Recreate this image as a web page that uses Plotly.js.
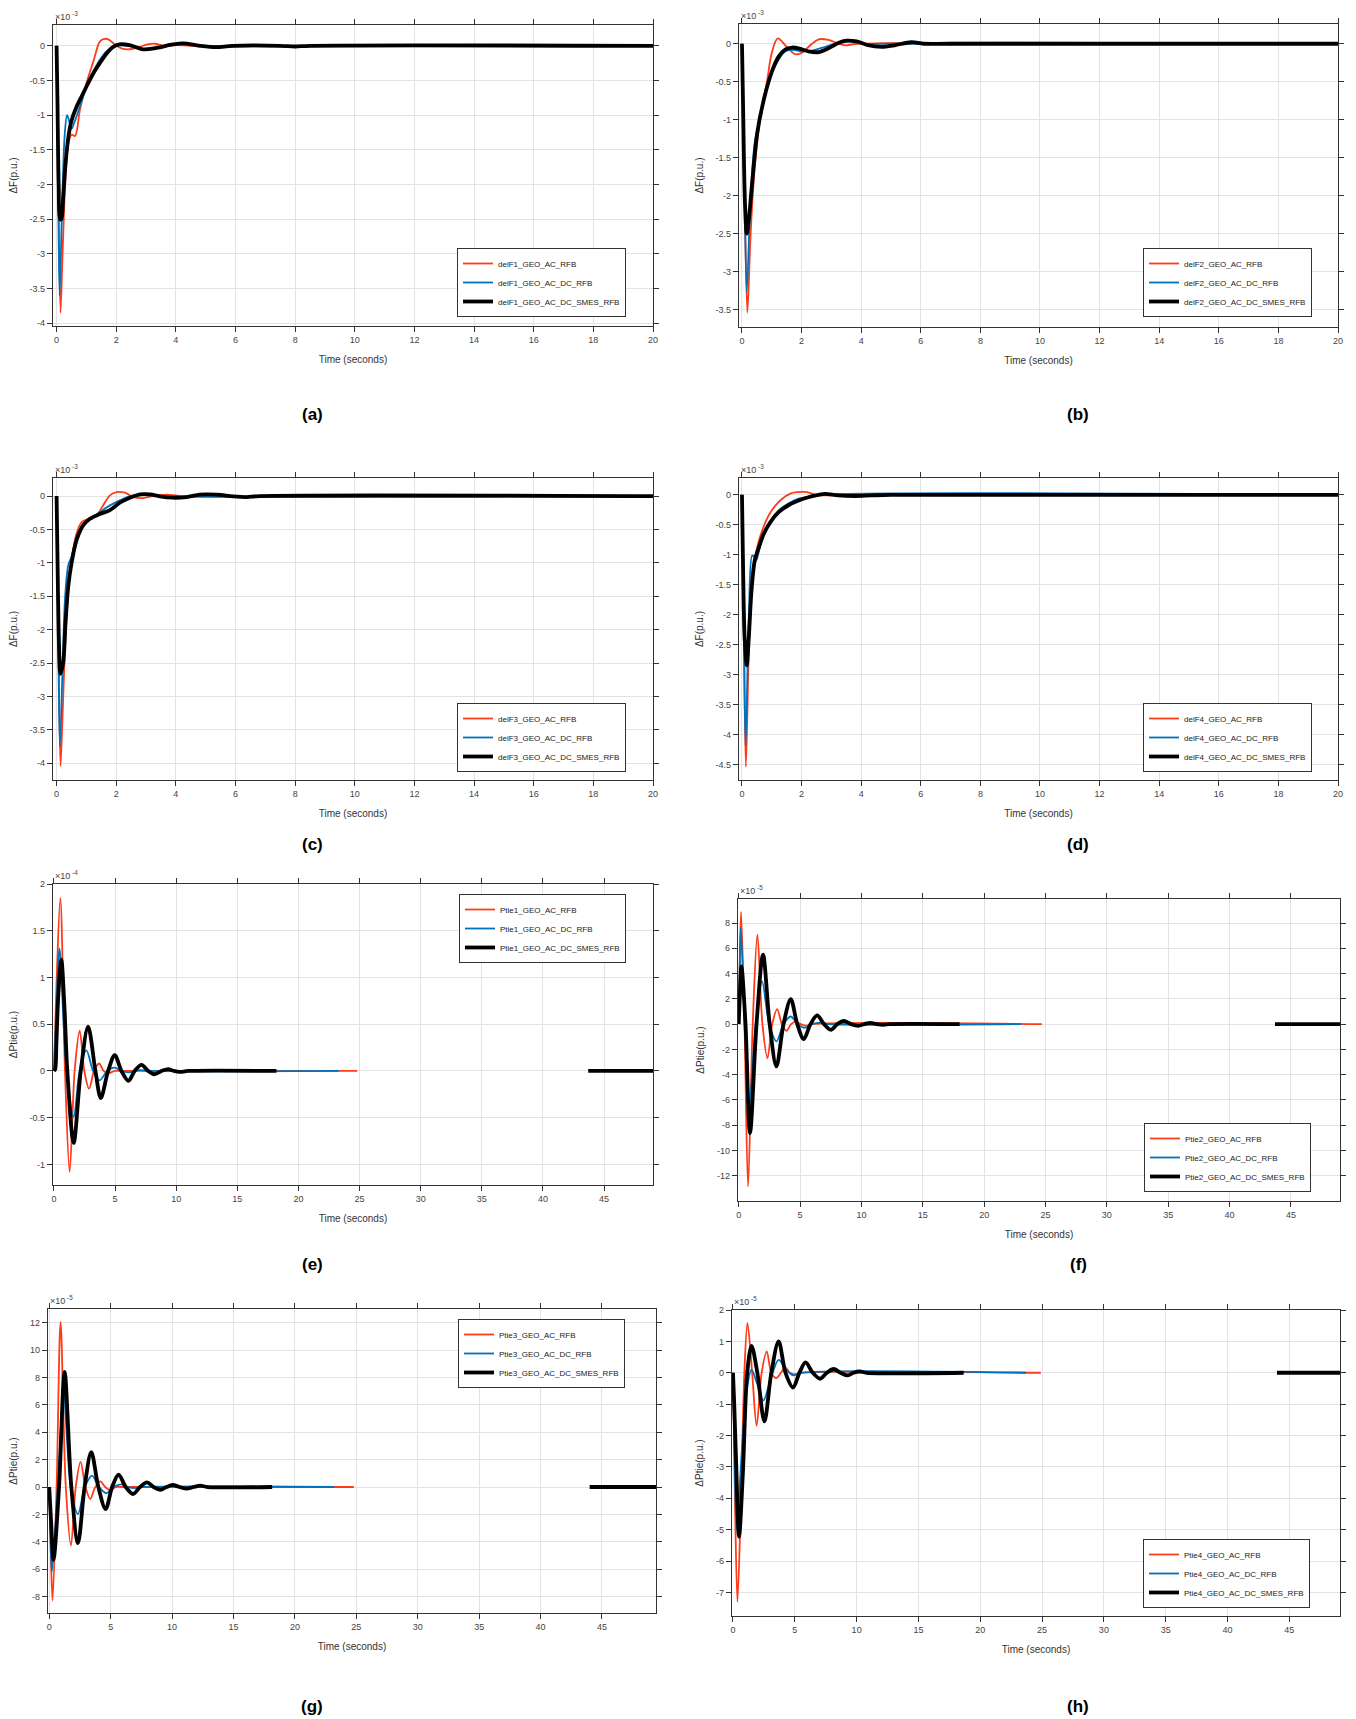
<!DOCTYPE html>
<html><head><meta charset="utf-8">
<script src="https://cdn.plot.ly/plotly-3.0.1.min.js"></script>
<style>html,body{margin:0;padding:0;background:#fff;} #chart{width:1356px;height:1719px;}</style>
</head><body><div id="chart"></div>
<script>
// ---------------- DATA ----------------
// Panel (a): delF1, units x10^-3
const redA_t   = [0, 0.05, 0.13, 0.2, 0.3, 0.4, 0.5, 0.62, 0.78, 1.0, 1.23, 1.45, 1.6, 1.75, 1.95, 2.2, 2.45, 2.75, 3.05, 3.3, 3.6, 4.0, 4.5, 5.0, 20];
const redA_v   = [0, -1.6, -3.85, -3.0, -1.9, -1.4, -1.28, -1.3, -0.93, -0.54, -0.23, 0.06, 0.1, 0.09, 0.02, -0.04, -0.05, -0.02, 0.02, 0.03, 0.0, 0.01, 0.0, 0, 0];
const blueA_t  = [0, 0.05, 0.1, 0.18, 0.27, 0.35, 0.42, 0.5, 0.6, 0.8, 1.0, 1.2, 1.45, 1.7, 1.95, 2.2, 2.5, 2.8, 3.1, 3.4, 3.8, 4.3, 4.8, 5.5, 20];
const blueA_v  = [0, -1.8, -3.6, -2.4, -1.3, -1.0, -1.08, -1.2, -1.1, -0.85, -0.6, -0.4, -0.2, -0.07, -0.01, 0.01, -0.01, -0.04, -0.04, -0.02, 0.02, 0.03, 0.0, -0.01, 0];
const blackA_t = [0, 0.03, 0.07, 0.12, 0.16, 0.22, 0.3, 0.4, 0.5, 0.67, 0.85, 1.0, 1.2, 1.45, 1.7, 1.9, 2.1, 2.45, 2.9, 3.35, 3.9, 4.25, 4.8, 5.35, 5.9, 7.5, 8.0, 8.5, 20];
const blackA_v = [0, -0.8, -2.0, -2.5, -2.5, -2.2, -1.7, -1.3, -1.08, -0.88, -0.72, -0.59, -0.42, -0.25, -0.1, -0.015, 0.02, 0.01, -0.05, -0.03, 0.02, 0.035, 0.0, -0.02, 0.0, 0, -0.01, 0, 0];

// Panel (b): delF2, units x10^-3
const redB_t   = [0, 0.08, 0.18, 0.29, 0.43, 0.62, 0.84, 1.0, 1.2, 1.5, 1.8, 2.0, 2.35, 2.6, 2.9, 3.25, 3.45, 3.9, 20];
const redB_v   = [0, -1.8, -3.54, -2.5, -1.62, -0.96, -0.5, -0.12, 0.07, -0.04, -0.14, -0.12, 0.0, 0.06, 0.05, 0.0, -0.02, 0, 0];
const blueB_t  = [0, 0.08, 0.16, 0.29, 0.43, 0.57, 0.79, 1.0, 1.23, 1.46, 1.73, 2.0, 2.35, 2.8, 3.23, 3.68, 4.1, 5, 20];
const blueB_v  = [0, -1.7, -3.27, -2.0, -1.3, -1.05, -0.65, -0.39, -0.21, -0.1, -0.08, -0.1, -0.09, -0.04, 0.01, 0.03, 0, 0, 0];
const blackB_t = [0, 0.04, 0.1, 0.16, 0.22, 0.34, 0.51, 0.73, 1.0, 1.23, 1.46, 1.68, 1.9, 2.23, 2.57, 2.9, 3.23, 3.5, 3.85, 4.23, 4.68, 5.12, 5.68, 6.1, 7, 20];
const blackB_v = [0, -0.9, -2.1, -2.5, -2.35, -1.84, -1.18, -0.74, -0.37, -0.17, -0.075, -0.05, -0.06, -0.1, -0.11, -0.06, 0.01, 0.04, 0.03, -0.02, -0.04, -0.02, 0.02, 0, 0, 0];

// Panel (c): delF3, units x10^-3
const redC_t   = [0, 0.06, 0.13, 0.2, 0.28, 0.39, 0.5, 0.67, 0.84, 1.06, 1.34, 1.56, 1.79, 2.01, 2.29, 2.57, 2.9, 3.24, 3.7, 4.2, 20];
const redC_v   = [0, -2.0, -4.04, -3.3, -2.3, -1.41, -0.96, -0.56, -0.39, -0.34, -0.29, -0.14, 0.01, 0.06, 0.05, -0.015, -0.03, 0, 0.02, 0, 0];
const blueC_t  = [0, 0.05, 0.11, 0.2, 0.28, 0.39, 0.5, 0.67, 0.89, 1.12, 1.45, 1.79, 2.12, 2.46, 2.8, 3.13, 3.46, 20];
const blueC_v  = [0, -1.8, -3.75, -2.6, -1.56, -1.04, -0.91, -0.61, -0.44, -0.34, -0.24, -0.14, -0.065, 0, 0.02, 0.01, 0, 0];
const blackC_t = [0, 0.03, 0.08, 0.13, 0.22, 0.3, 0.39, 0.5, 0.67, 0.89, 1.12, 1.45, 1.79, 2.12, 2.46, 2.8, 3.13, 3.46, 3.9, 4.36, 4.8, 5.36, 5.92, 6.37, 6.8, 20];
const blackC_v = [0, -0.9, -2.2, -2.66, -2.5, -1.9, -1.36, -1.01, -0.66, -0.44, -0.34, -0.27, -0.21, -0.1, -0.025, 0.025, 0.025, -0.005, -0.025, -0.015, 0.02, 0.02, -0.005, -0.015, 0, 0];

// Panel (d): delF4, units x10^-3
const redD_t   = [0, 0.06, 0.13, 0.23, 0.34, 0.51, 0.68, 0.9, 1.12, 1.34, 1.62, 1.84, 2.18, 2.46, 2.9, 3.5, 20];
const redD_v   = [0, -2.2, -4.53, -2.59, -1.37, -0.87, -0.59, -0.34, -0.18, -0.07, 0.02, 0.045, 0.045, 0, -0.01, 0, 0];
const blueD_t  = [0, 0.06, 0.12, 0.23, 0.34, 0.4, 0.48, 0.57, 0.73, 0.96, 1.23, 1.57, 1.9, 2.23, 2.57, 20];
const blueD_v  = [0, -2.0, -4.17, -2.03, -1.01, -1.03, -1.09, -0.93, -0.65, -0.43, -0.26, -0.14, -0.065, -0.03, 0, 0];
const blackD_t = [0, 0.03, 0.09, 0.16, 0.23, 0.32, 0.43, 0.57, 0.73, 0.96, 1.23, 1.57, 1.9, 2.23, 2.57, 2.79, 3.23, 3.79, 4.34, 5, 20];
const blackD_v = [0, -1.0, -2.4, -2.84, -2.37, -1.59, -1.09, -0.87, -0.65, -0.45, -0.29, -0.17, -0.095, -0.04, 0, 0.015, -0.01, -0.02, -0.01, 0, 0];

// Panel (e): Ptie1, units x10^-4
const redE_t   = [0, 0.2, 0.52, 0.9, 1.28, 1.69, 2.1, 2.48, 2.87, 3.28, 3.69, 4.06, 4.43, 5.0, 6.0, 24.8];
const redE_v   = [0, 0.9, 1.85, 0, -1.08, 0, 0.43, 0, -0.19, 0, 0.08, 0, -0.025, 0, 0, 0];
const blueE_t  = [0, 0.2, 0.44, 1.03, 1.61, 2.1, 2.65, 3.2, 3.74, 4.35, 4.97, 5.5, 6.07, 7.0, 8, 23.3];
const blueE_v  = [0, 0.7, 1.31, 0, -0.49, 0, 0.22, 0, -0.1, 0, 0.035, 0, -0.015, 0.008, 0, 0];
const blackE_t = [0, 0.1, 0.2, 0.35, 0.6, 0.85, 1.09, 1.61, 2.19, 2.79, 3.39, 3.83, 4.43, 4.97, 5.52, 6.09, 6.6, 7.16, 7.7, 8.2, 8.8, 9.34, 9.8, 10.3, 11, 18.2, null, 43.7, 49];
const blackE_v = [0, 0.02, 0.3, 0.8, 1.19, 0.7, 0, -0.77, 0, 0.475, 0, -0.29, 0, 0.17, 0, -0.105, 0, 0.065, 0, -0.035, 0, 0.02, 0, -0.01, 0, 0, null, 0, 0];

// Panel (f): Ptie2, units x10^-5
const redF_t   = [0, 0.08, 0.19, 0.47, 0.76, 1.14, 1.52, 1.93, 2.34, 2.73, 3.13, 3.51, 3.89, 4.27, 4.65, 5.05, 5.46, 6.0, 24.7];
const redF_v   = [0, 4.5, 8.87, 0, -12.85, 0, 7.07, 0, -2.7, 0, 1.19, 0, -0.53, 0, 0.2, 0, -0.13, 0, 0];
const blueF_t  = [0, 0.07, 0.16, 0.5, 0.85, 1.38, 1.9, 2.48, 3.07, 3.65, 4.24, 4.8, 5.38, 6.0, 6.6, 7.3, 23.0];
const blueF_v  = [0, 4, 7.6, 0, -6.5, 0, 3.38, 0, -1.37, 0, 0.6, 0, -0.3, 0, 0.1, 0, 0];
const blackF_t = [0, 0.1, 0.22, 0.55, 0.92, 1.45, 1.98, 2.52, 3.07, 3.65, 4.24, 4.77, 5.3, 5.85, 6.39, 6.95, 7.5, 8.03, 8.56, 9.15, 9.73, 10.23, 10.73, 11.25, 11.8, 12.3, 18.0, null, 43.7, 49];
const blackF_v = [0, 2.5, 4.56, 0, -8.63, 0, 5.49, 0, -3.35, 0, 1.98, 0, -1.19, 0, 0.69, 0, -0.45, 0, 0.26, 0, -0.13, 0, 0.1, 0, -0.05, 0, 0, null, 0, 0];

// Panel (g): Ptie3, units x10^-5
const redG_t   = [0, 0.12, 0.27, 0.6, 0.92, 1.35, 1.77, 2.16, 2.55, 2.95, 3.34, 3.75, 4.16, 4.56, 4.97, 5.4, 6, 24.8];
const redG_v   = [0, -4.5, -8.29, 0, 12.05, 0, -4.27, 0, 1.83, 0, -0.88, 0, 0.41, 0, -0.24, 0, 0, 0];
const blueG_t  = [0, 0.1, 0.22, 0.7, 1.17, 1.75, 2.34, 2.9, 3.48, 4.05, 4.65, 5.25, 5.84, 6.4, 7.0, 7.6, 23.2];
const blueG_v  = [0, -3.5, -6.17, 0, 6.76, 0, -1.98, 0, 0.83, 0, -0.44, 0, 0.2, 0, -0.08, 0, 0];
const blackG_t = [0, 0.15, 0.35, 0.8, 1.25, 1.8, 2.34, 2.88, 3.42, 4.0, 4.59, 5.12, 5.65, 6.23, 6.82, 7.39, 7.96, 8.5, 9.05, 9.55, 10.05, 10.6, 11.2, 11.75, 12.3, 12.9, 18.15, null, 44.0, 49.4];
const blackG_v = [0, -2.5, -5.32, 0, 8.41, 0, -4.1, 0, 2.54, 0, -1.61, 0, 0.9, 0, -0.51, 0, 0.34, 0, -0.2, 0, 0.15, 0, -0.12, 0, 0.1, 0, 0, null, 0, 0];

// Panel (h): Ptie4, units x10^-5
const redH_t   = [0, 0.15, 0.36, 0.65, 0.92, 1.17, 1.55, 1.91, 2.32, 2.73, 3.1, 3.5, 3.87, 4.23, 4.6, 5.0, 5.5, 24.9];
const redH_v   = [0, -3.8, -7.3, -4.0, 0, 1.59, 0, -1.69, 0, 0.68, 0, -0.17, 0, 0.17, 0, -0.05, 0, 0];
const blueH_t  = [0, 0.12, 0.3, 0.7, 1.1, 1.5, 1.95, 2.46, 3.05, 3.69, 4.3, 4.86, 5.5, 23.7];
const blueH_v  = [0, -2.5, -5.0, -2.6, -0.6, 0.1, -0.35, -0.88, -0.2, 0.41, 0.1, -0.08, 0, 0];
const blackH_t = [0, 0.1, 0.25, 0.49, 0.8, 1.15, 1.5, 1.97, 2.54, 3.1, 3.69, 4.25, 4.86, 5.37, 5.87, 6.45, 7.05, 7.6, 8.14, 8.7, 9.29, 9.75, 10.25, 10.8, 18.66, null, 44.0, 49.1];
const blackH_v = [0, -1.0, -2.8, -5.22, -3.2, 0, 0.86, 0, -1.55, 0, 1.0, 0, -0.47, 0, 0.33, 0, -0.19, 0, 0.12, 0, -0.085, 0, 0.04, 0, 0, null, 0, 0];

// Labels
const seriesSuffix = ['_GEO_AC_RFB', '_GEO_AC_DC_RFB', '_GEO_AC_DC_SMES_RFB'];
const signalNames  = ['delF1', 'delF2', 'delF3', 'delF4', 'Ptie1', 'Ptie2', 'Ptie3', 'Ptie4'];
const captions     = ['(a)', '(b)', '(c)', '(d)', '(e)', '(f)', '(g)', '(h)'];
const exponents    = ['-3', '-3', '-3', '-3', '-4', '-5', '-5', '-5'];
const yTitleF      = 'ΔF(p.u.)';
const yTitleP      = 'ΔPtie(p.u.)';
const xTitle       = 'Time (seconds)';
const yTicksA = [-4, -3.5, -3, -2.5, -2, -1.5, -1, -0.5, 0];
const yTicksB = [-3.5, -3, -2.5, -2, -1.5, -1, -0.5, 0];
const yTicksC = [-4, -3.5, -3, -2.5, -2, -1.5, -1, -0.5, 0];
const yTicksD = [-4.5, -4, -3.5, -3, -2.5, -2, -1.5, -1, -0.5, 0];
const yTicksE = [-1, -0.5, 0, 0.5, 1, 1.5, 2];
const yTicksF = [-12, -10, -8, -6, -4, -2, 0, 2, 4, 6, 8];
const yTicksG = [-8, -6, -4, -2, 0, 2, 4, 6, 8, 10, 12];
const yTicksH = [-7, -6, -5, -4, -3, -2, -1, 0, 1, 2];
const xTicksF = [0, 2, 4, 6, 8, 10, 12, 14, 16, 18, 20];
const xTicksP = [0, 5, 10, 15, 20, 25, 30, 35, 40, 45];

// ---------------- LAYOUT / STYLE ----------------
const W = 1356, H = 1719;
const FONT = 'Liberation Sans, Arial, Helvetica, sans-serif';
const RED = '#ff3b1a', BLUE = '#0072bd', BLACK = '#000000';

const series = [
  [[redA_t, redA_v], [blueA_t, blueA_v], [blackA_t, blackA_v]],
  [[redB_t, redB_v], [blueB_t, blueB_v], [blackB_t, blackB_v]],
  [[redC_t, redC_v], [blueC_t, blueC_v], [blackC_t, blackC_v]],
  [[redD_t, redD_v], [blueD_t, blueD_v], [blackD_t, blackD_v]],
  [[redE_t, redE_v], [blueE_t, blueE_v], [blackE_t, blackE_v]],
  [[redF_t, redF_v], [blueF_t, blueF_v], [blackF_t, blackF_v]],
  [[redG_t, redG_v], [blueG_t, blueG_v], [blackG_t, blackG_v]],
  [[redH_t, redH_v], [blueH_t, blueH_v], [blackH_t, blackH_v]]
];
const yTicks = [yTicksA, yTicksB, yTicksC, yTicksD, yTicksE, yTicksF, yTicksG, yTicksH];

// pixel boxes of each plot area: [left, right, top, bottom], axis ranges, legend anchor
const geo = [
  {box:[53,653,25,326],    xr:[-0.12,20],   yr:[-4.04,0.3],  leg:{x:457,  y:317,  anchor:'bottom'}, cap:[312,414]},
  {box:[739,1338,24,327],  xr:[-0.1,20],    yr:[-3.73,0.26], leg:{x:1143, y:317,  anchor:'bottom'}, cap:[1078,414]},
  {box:[53,653,478,780],   xr:[-0.12,20],   yr:[-4.25,0.27], leg:{x:457,  y:772,  anchor:'bottom'}, cap:[312,844]},
  {box:[739,1338,478,780], xr:[-0.1,20],    yr:[-4.75,0.28], leg:{x:1143, y:772,  anchor:'bottom'}, cap:[1078,844]},
  {box:[53,653,884,1185],  xr:[-0.08,49],   yr:[-1.22,2.0],  leg:{x:459,  y:894,  anchor:'top'},    cap:[312,1264]},
  {box:[738,1340,899,1201],xr:[-0.06,49],   yr:[-14,9.9],    leg:{x:1144, y:1192, anchor:'bottom'}, cap:[1078,1264]},
  {box:[48,656,1309,1613], xr:[-0.1,49.4],  yr:[-9.2,13.0],  leg:{x:458,  y:1319, anchor:'top'},    cap:[312,1706]},
  {box:[732,1340,1310,1616],xr:[-0.08,49.1],yr:[-7.75,2.0],  leg:{x:1143, y:1608, anchor:'bottom'}, cap:[1078,1706]}
];

const traces = [];
const layout = {
  width: W, height: H, margin: {l:0, r:0, t:0, b:0},
  paper_bgcolor: '#fff', plot_bgcolor: '#fff',
  font: {family: FONT, size: 9, color: '#444'},
  showlegend: true, annotations: []
};

const colors = [RED, BLUE, BLACK];
const widths = [1.8, 1.8, 3.8];

geo.forEach((g, i) => {
  const n = i + 1;
  const xa = n === 1 ? 'xaxis' : 'xaxis' + n;
  const ya = n === 1 ? 'yaxis' : 'yaxis' + n;
  const xr = n === 1 ? 'x' : 'x' + n;
  const yr = n === 1 ? 'y' : 'y' + n;
  const lg = n === 1 ? 'legend' : 'legend' + n;
  const isF = i < 4;

  series[i].forEach((s, k) => {
    traces.push({
      type: 'scatter', mode: 'lines', x: s[0], y: s[1],
      xaxis: xr, yaxis: yr, legend: lg,
      name: signalNames[i] + seriesSuffix[k],
      line: {color: colors[k], width: widths[k], shape: 'spline', smoothing: 0.9},
      connectgaps: false, hoverinfo: 'skip'
    });
  });

  const common = {
    showline: true, linecolor: '#333', linewidth: 1.2, mirror: 'ticks',
    ticks: 'outside', ticklen: 5, tickwidth: 1, tickcolor: '#333',
    showgrid: true, gridcolor: '#e3e3e3', gridwidth: 1, zeroline: false,
    tickfont: {family: FONT, size: 9, color: '#444'}, fixedrange: true
  };
  const xt = isF ? xTicksF : xTicksP;
  layout[xa] = Object.assign({}, common, {
    domain: [g.box[0] / W, g.box[1] / W], anchor: yr, range: g.xr,
    tickmode: 'array', tickvals: xt, ticktext: xt.map(String),
    title: {text: xTitle, font: {family: FONT, size: 10, color: '#333'}, standoff: 12}
  });
  const yt = yTicks[i];
  layout[ya] = Object.assign({}, common, {
    domain: [1 - g.box[3] / H, 1 - g.box[2] / H], anchor: xr, range: g.yr,
    tickmode: 'array', tickvals: yt, ticktext: yt.map(String),
    title: {text: isF ? yTitleF : yTitleP, font: {family: FONT, size: 10, color: '#333'}, standoff: 10}
  });

  layout[lg] = {
    x: g.leg.x / W, y: 1 - g.leg.y / H, xanchor: 'left', yanchor: g.leg.anchor,
    xref: 'paper', yref: 'paper',
    bgcolor: '#fff', bordercolor: '#333', borderwidth: 1,
    font: {family: FONT, size: 8, color: '#222'}, tracegroupgap: 0
  };

  // exponent label (x 10^n) above the top-left corner
  layout.annotations.push({
    xref: 'paper', yref: 'paper', x: g.box[0] / W, y: 1 - g.box[2] / H,
    xanchor: 'left', yanchor: 'bottom', showarrow: false, yshift: 1,
    text: '×10<sup> ' + exponents[i] + '</sup>',
    font: {family: FONT, size: 9, color: '#444'}
  });
  // caption
  layout.annotations.push({
    xref: 'paper', yref: 'paper', x: g.cap[0] / W, y: 1 - g.cap[1] / H,
    xanchor: 'center', yanchor: 'middle', showarrow: false,
    text: '<b>' + captions[i] + '</b>',
    font: {family: FONT, size: 17, color: '#000'}
  });
});

Plotly.newPlot('chart', traces, layout, {staticPlot: true, displayModeBar: false});
</script></body></html>
